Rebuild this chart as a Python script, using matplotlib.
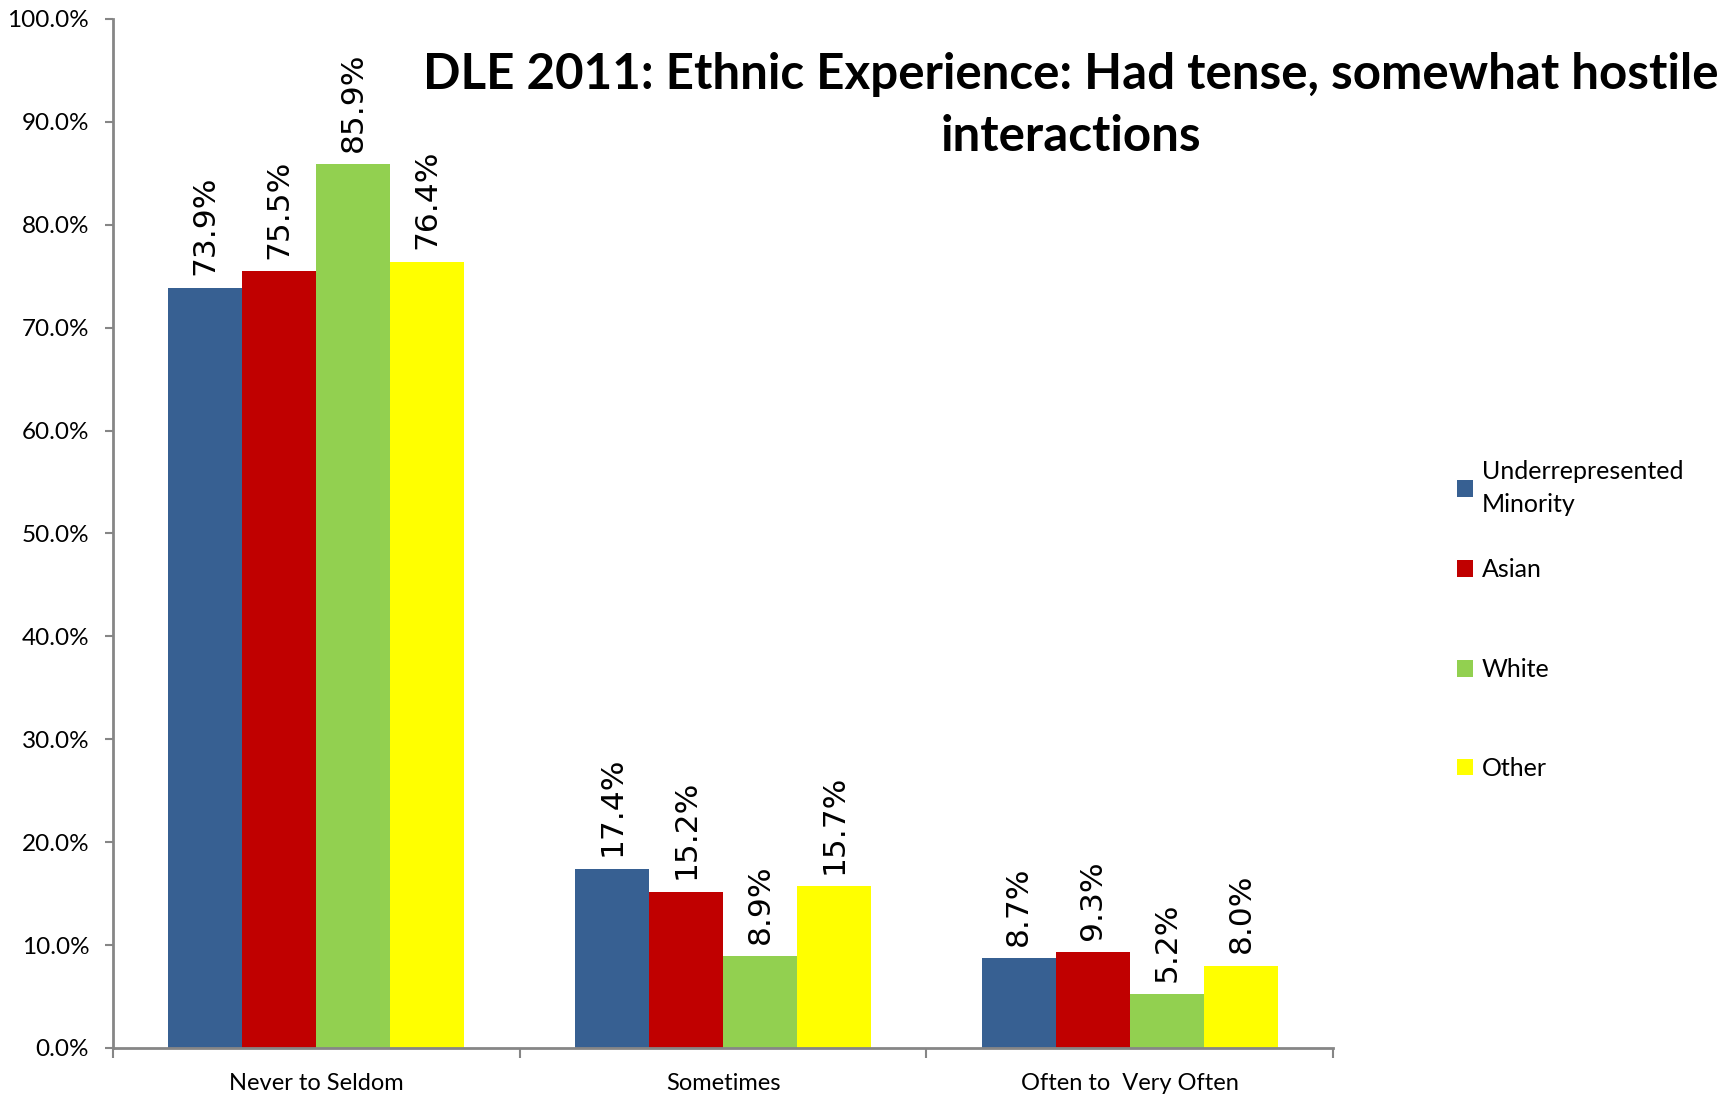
import matplotlib.pyplot as plt
import numpy as np
from matplotlib.ticker import FixedLocator, FuncFormatter
from matplotlib.patches import Patch

# Datos del grafico
categorias = ["Never to Seldom", "Sometimes", "Often to  Very Often"]
grupos = ["Underrepresented\nMinority", "Asian", "White", "Other"]
minoria = [73.9, 17.4, 8.7]
asiatico = [75.5, 15.2, 9.3]
blanco = [85.9, 8.9, 5.2]
otro = [76.4, 15.7, 8.0]
colores = ["#376092", "#C00000", "#92D050", "#FFFF00"]

series = [minoria, asiatico, blanco, otro]

fig = plt.figure(figsize=(17.36, 10.97), dpi=100)
ax = fig.add_axes([0.065, 0.0447, 0.703, 0.938])

x = np.arange(len(categorias))
ancho = 0.182
for i, (vals, col) in enumerate(zip(series, colores)):
    pos = x + (i - 1.5) * ancho
    barras = ax.bar(pos, vals, ancho, color=col, edgecolor="none")
    for b, v in zip(barras, vals):
        ax.annotate(f"{v:.1f}%", (b.get_x() + b.get_width() / 2, v),
                    xytext=(0, 9), textcoords="offset points",
                    rotation=90, ha="center", va="bottom",
                    fontsize=22.5, family="DejaVu Sans")

ax.set_xlim(-0.5, 2.5)
ax.set_ylim(0, 100)
ax.set_yticks(np.arange(0, 101, 10))
ax.yaxis.set_major_formatter(FuncFormatter(lambda v, p: f"{v:.1f}%"))

ax.set_xticks(x)
ax.set_xticklabels(categorias)
ax.xaxis.set_minor_locator(FixedLocator([-0.5, 0.5, 1.5, 2.5]))

gris = "#868686"
for s in ["top", "right"]:
    ax.spines[s].set_visible(False)
for s in ["left", "bottom"]:
    ax.spines[s].set_color(gris)
    ax.spines[s].set_linewidth(2)

ax.tick_params(axis="y", length=6, width=1.5, color=gris, pad=11,
               labelsize=17.5)
ax.tick_params(axis="x", which="major", length=0, pad=18, labelsize=17)
ax.tick_params(axis="x", which="minor", length=7, width=1.5, color=gris)
for t in ax.get_xticklabels() + ax.get_yticklabels():
    t.set_family("Lato")

fig.text(0.617, 0.904, "DLE 2011: Ethnic Experience: Had tense, somewhat hostile\ninteractions",
         ha="center", va="center", fontsize=35.5, fontweight="bold",
         family="Lato", linespacing=1.45)

# una leyenda por grupo para respetar el espaciado del original
tops = [0.592, 0.5025, 0.4115, 0.3215]
for c, g, t in zip(colores, grupos, tops):
    leg = fig.legend([Patch(facecolor=c, edgecolor="none")], [g],
                     loc="upper left", bbox_to_anchor=(0.832, t),
                     frameon=False, borderpad=0, handlelength=0.65,
                     handleheight=0.65, handletextpad=0.35,
                     prop={"family": "Lato", "size": 18})
    for txt in leg.get_texts():
        txt.set_linespacing(1.5)

fig.savefig("out.png", dpi=100)
